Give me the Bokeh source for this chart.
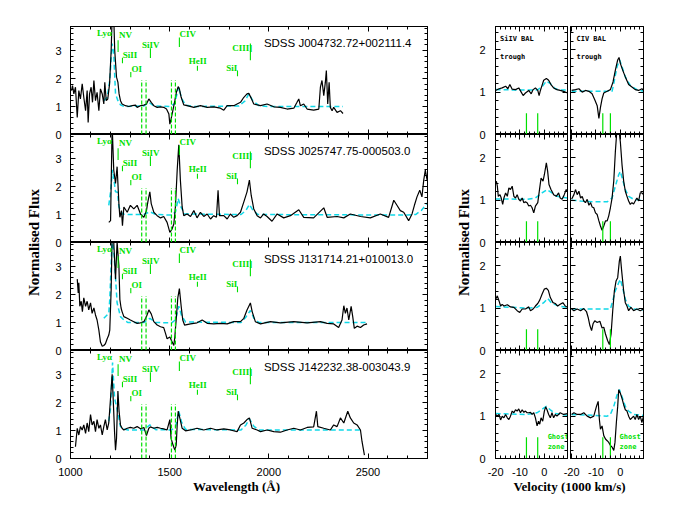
from bokeh.plotting import figure
from bokeh.layouts import row, column
from bokeh.models import Range1d, SingleIntervalTicker, FixedTicker, LinearAxis
from bokeh.embed import file_html
from bokeh.resources import INLINE
from bokeh.core.properties import value

# ---------------- data ----------------
obj_names = ["SDSS J004732.72+002111.4", "SDSS J025747.75-000503.0",
             "SDSS J131714.21+010013.0", "SDSS J142232.38-003043.9"]

spec1 = [(1005,1.57),(1010,1.75),(1017,1.45),(1025,1.69),(1034,0.61),(1042,1.57),(1050,1.27),(1059,1.81),
         (1067,1.33),(1076,0.85),(1084,1.57),(1089,0.43),(1096,1.45),(1104,1.69),(1111,1.15),(1118,1.93),
         (1126,1.21),(1134,1.51),(1143,0.85),(1151,1.63),(1160,1.45),(1168,1.09),(1173,1.87),(1180,1.21),
         (1188,1.27),(1197,1.81),(1205,3.0),(1210,4.2),(1218,4.2),(1223,3.0),(1232,2.05),(1239,1.87),
         (1245,1.45),(1252,1.21),(1260,1.09),(1277,1.03),(1294,1.0),(1311,1.03),(1328,1.05),(1336,0.97),
         (1353,1.03),(1370,1.05),(1383,1.09),(1395,1.27),(1407,1.15),(1420,1.03),(1437,0.97),(1454,0.99),
         (1470,0.97),(1484,0.91),(1496,0.73),(1501,0.37),(1507,0.55),(1516,0.85),(1526,1.21),(1534,1.51),
         (1543,1.71),(1549,1.63),(1558,1.33),(1571,1.06),(1588,1.03),(1622,0.97),(1655,1.03),(1689,0.97),
         (1722,0.99),(1756,0.94),(1773,0.87),(1790,1.03),(1823,1.03),(1857,1.15),(1874,1.33),(1890,1.45),
         (1899,1.47),(1911,1.30),(1924,1.09),(1958,1.03),(1991,1.09),(2025,0.99),(2058,0.97),(2092,0.91),
         (2126,0.94),(2142,1.15),(2151,1.27),(2159,1.03),(2176,1.09),(2193,0.91),(2226,0.87),(2252,0.91),
         (2260,1.69),(2268,1.93),(2277,1.39),(2285,1.87),(2290,2.29),(2297,1.09),(2304,1.87),(2310,0.97),
         (2319,0.85),(2327,0.97),(2344,0.79),(2361,0.85),(2374,0.75)]
model1 = [(1168,1.21),(1185,1.33),(1198,1.93),(1210,3.25),(1218,2.9),(1227,1.45),(1239,1.21),(1252,1.06),
          (1270,1.0),(1370,1.02),(1395,1.15),(1420,1.02),(1500,1.0),(1525,1.1),(1545,1.69),(1560,1.3),
          (1580,1.05),(1620,1.0),(1850,1.02),(1880,1.2),(1899,1.45),(1920,1.2),(1950,1.03),(2000,1.0),(2374,1.0)]

spec2 = [(1193,0.72),(1202,0.78),(1210,4.2),(1218,2.59),(1227,2.11),(1235,2.71),(1244,1.39),(1249,0.9),
         (1257,1.14),(1262,0.6),(1269,1.27),(1286,1.08),(1302,1.33),(1319,1.2),(1336,1.33),(1353,1.02),
         (1370,0.9),(1383,1.14),(1390,1.45),(1400,1.81),(1407,1.39),(1420,1.08),(1437,0.96),(1454,0.88),
         (1470,0.93),(1487,0.72),(1501,0.36),(1512,0.48),(1521,0.66),(1529,1.27),(1538,2.59),(1546,3.49),
         (1554,2.23),(1563,1.27),(1571,0.96),(1588,1.02),(1605,0.93),(1622,1.14),(1638,0.88),(1655,1.08),
         (1672,0.93),(1689,1.02),(1706,0.84),(1722,0.96),(1736,0.9),(1744,1.87),(1751,0.96),(1773,0.96),
         (1790,0.84),(1806,1.02),(1823,0.9),(1840,0.96),(1857,1.08),(1874,1.45),(1890,1.81),(1902,2.23),
         (1911,1.69),(1924,1.2),(1941,0.96),(1958,0.88),(1974,1.02),(1991,0.93),(2016,0.76),(2042,1.02),
         (2075,0.88),(2109,0.96),(2151,1.17),(2176,0.9),(2226,0.88),(2277,1.24),(2294,0.9),(2344,0.93),
         (2378,0.88),(2411,1.02),(2462,0.93),(2512,0.88),(2562,1.02),(2604,0.9),(2630,1.51),(2646,1.33),
         (2663,1.14),(2680,1.08),(2705,0.78),(2722,1.02),(2734,1.33),(2747,1.63),(2761,1.87),(2772,1.63),
         (2781,2.23),(2789,2.59),(2798,2.23)]
model2 = [(1193,1.33),(1202,1.81),(1212,2.6),(1218,2.3),(1227,1.81),(1237,1.8),(1244,1.27),(1262,1.02),
          (1290,1.0),(1370,1.0),(1400,1.1),(1430,1.0),(1510,0.98),(1530,1.1),(1543,1.57),(1555,1.3),
          (1575,1.02),(1860,1.0),(1885,1.15),(1902,1.36),(1920,1.15),(1945,1.0),(2700,0.98),(2740,1.0),
          (2770,1.15),(2798,1.41)]

spec3 = [(1034,2.55),(1039,2.06),(1042,2.42),(1047,1.58),(1054,1.76),(1060,1.39),(1067,1.88),(1076,1.58),
         (1084,1.76),(1092,1.45),(1101,1.7),(1109,1.33),(1118,1.52),(1126,1.27),(1134,1.09),(1143,0.73),
         (1151,0.3),(1160,0.15),(1168,0.18),(1176,0.24),(1185,0.42),(1193,0.55),(1198,0.73),(1205,2.18),
         (1210,4.2),(1218,3.88),(1227,2.55),(1235,3.88),(1244,3.03),(1249,1.82),(1255,1.52),(1260,1.39),
         (1269,1.21),(1286,1.15),(1302,1.09),(1319,1.03),(1336,0.97),(1353,0.99),(1370,1.03),(1383,1.21),
         (1395,1.45),(1407,1.31),(1420,1.03),(1437,0.91),(1454,0.85),(1470,0.82),(1479,0.61),(1487,0.42),
         (1501,0.48),(1509,0.36),(1521,0.18),(1526,0.48),(1534,1.21),(1541,1.88),(1549,2.21),(1558,1.58),
         (1566,1.09),(1575,0.91),(1605,0.95),(1638,0.99),(1664,1.09),(1689,0.97),(1722,0.95),(1756,0.97),
         (1790,0.95),(1823,1.03),(1857,1.03),(1874,1.15),(1890,1.45),(1907,1.7),(1916,1.39),(1932,1.03),
         (1958,0.95),(2008,1.03),(2058,0.99),(2126,1.03),(2193,0.99),(2260,1.03),(2294,0.97),(2327,0.95),
         (2352,0.82),(2369,1.09),(2378,1.6),(2386,1.33),(2394,1.52),(2403,1.09),(2415,1.58),(2423,1.21),
         (2431,0.79),(2445,0.87),(2462,0.82),(2478,0.91),(2495,0.95)]
model3 = [(1168,1.15),(1193,1.33),(1198,1.82),(1210,4.0),(1220,3.4),(1235,1.7),(1252,1.21),(1269,1.09),
          (1290,1.0),(1370,1.0),(1400,1.15),(1430,1.0),(1510,0.99),(1530,1.1),(1546,1.58),(1560,1.25),
          (1580,1.02),(1860,1.0),(1885,1.2),(1907,1.43),(1925,1.15),(1950,1.0),(2495,1.0)]

spec4 = [(1025,0.42),(1034,1.08),(1042,0.84),(1050,1.14),(1059,1.02),(1067,1.2),(1076,0.9),(1084,1.27),
         (1092,0.96),(1101,1.57),(1109,1.2),(1118,1.33),(1126,0.96),(1134,1.39),(1143,1.08),(1151,1.2),
         (1160,0.84),(1168,1.14),(1176,1.39),(1185,1.02),(1193,1.27),(1202,2.17),(1210,3.01),(1215,2.17),
         (1222,0.96),(1227,0.3),(1232,0.72),(1239,2.41),(1245,1.69),(1252,1.2),(1260,1.08),(1269,1.02),
         (1286,1.08),(1302,1.11),(1319,1.08),(1336,1.14),(1353,1.06),(1370,1.11),(1383,0.82),(1395,1.08),
         (1403,1.13),(1420,1.08),(1437,1.11),(1454,1.08),(1470,1.06),(1487,1.02),(1501,1.39),(1507,0.72),
         (1517,0.48),(1526,0.3),(1533,0.48),(1538,1.2),(1543,1.69),(1551,1.45),(1563,1.08),(1580,0.99),
         (1605,1.02),(1638,1.08),(1672,1.02),(1706,1.08),(1739,1.02),(1773,1.06),(1806,1.02),(1840,0.96),
         (1857,1.2),(1874,1.27),(1890,1.39),(1902,1.45),(1916,1.08),(1941,1.02),(1958,0.96),(1991,1.02),
         (2025,0.96),(2058,0.94),(2092,1.02),(2126,1.08),(2159,1.02),(2193,1.11),(2226,1.13),(2240,1.69),
         (2247,1.14),(2277,1.08),(2310,1.02),(2327,1.2),(2344,1.14),(2361,1.45),(2378,1.27),(2398,1.69),
         (2411,1.45),(2428,1.27),(2445,1.2),(2462,1.02),(2470,0.6),(2482,0.12)]
model4 = [(1193,1.33),(1202,1.81),(1212,3.43),(1222,2.17),(1235,1.75),(1252,1.14),(1269,1.06),(1290,1.02),
          (1370,1.02),(1400,1.2),(1430,1.03),(1510,1.02),(1530,1.15),(1546,1.69),(1560,1.3),(1580,1.04),
          (1860,1.02),(1885,1.2),(1902,1.42),(1925,1.15),(1950,1.02),(2470,1.02)]

# emission-line identifications (same in every left panel)
line_names   = ["Ly\u03b1", "NV", "SiII", "OI", "SiIV", "CIV", "HeII", "SiI", "CIII]"]
label_wl     = [1134, 1244, 1264, 1307, 1361, 1549, 1596, 1785, 1815]
label_flux   = [3.61, 3.55, 2.85, 2.35, 3.21, 3.58, 2.64, 2.38, 3.10]
tick_wl      = [1240, 1262, 1304, 1403, 1549, 1640, 1842, 1907]
tick_lo      = [2.95, 2.55, 2.05, 2.73, 3.13, 2.28, 2.08, 2.65]
tick_hi      = [3.37, 2.74, 2.23, 3.08, 3.47, 2.46, 2.29, 3.25]
bal_wl       = [1359, 1381, 1509, 1529]
bal_top      = 1.95

# velocity panels (1000 km/s, normalised flux)
siiv1 = [(-20,1.04),(-18.6,1.08),(-17.3,1.1),(-15.9,1.14),(-14.97,1.08),(-14.16,1.18),(-13.2,1.07),(-11.84,1.06),
         (-10.5,1.1),(-9.5,1.0),(-8.7,0.92),(-7.76,0.98),(-6.4,1.04),(-5.4,0.96),(-4.6,1.06),(-3.67,1.1),
         (-2.7,1.04),(-2.15,0.92),(-1.63,1.04),(-0.95,1.16),(-0.27,1.28),(0.82,1.32),(1.77,1.28),(2.72,1.18),
         (3.81,1.1),(5.17,1.06),(6.5,1.04),(7.9,1.02),(9.5,0.98)]
siiv1_m = [(-20,1.06),(-10,1.05),(-3,1.05),(-1,1.12),(0.8,1.26),(2.5,1.2),(4.5,1.08),(6.5,1.05),(9.5,1.05)]
civ1 = [(-20,1.04),(-18.4,1.06),(-17.0,1.08),(-15.65,1.0),(-14.3,1.04),(-12.9,1.02),(-11.6,0.96),(-10.5,0.82),
        (-9.5,0.68),(-8.8,0.38),(-8.16,0.64),(-7.5,0.84),(-6.8,0.98),(-5.4,1.02),(-4.08,1.06),(-3.0,1.24),
        (-2.04,1.52),(-1.09,1.76),(-0.54,1.82),(0.0,1.68),(0.95,1.52),(2.04,1.36),(3.4,1.18),(4.76,1.12),
        (6.1,1.06),(7.5,1.04),(8.84,1.08),(9.5,1.04)]
civ1_m = [(-20,1.02),(-3.4,1.02),(-2.7,1.2),(-1.36,1.6),(-0.27,1.76),(0.68,1.6),(2.04,1.36),(4.08,1.16),
          (6.8,1.06),(9.5,1.02)]

siiv2 = [(-19.7,1.45),(-19.3,1.33),(-18.9,1.09),(-18.2,1.13),(-17.7,1.05),(-17.1,0.9),(-16.6,1.05),(-15.9,1.17),
         (-15.2,1.09),(-14.56,1.29),(-13.9,1.25),(-13.2,1.33),(-12.5,1.09),(-11.84,1.05),(-11.16,1.13),(-10.5,1.02),
         (-9.8,0.98),(-9.1,1.05),(-8.4,0.94),(-7.76,0.96),(-7.08,0.94),(-6.4,0.86),(-5.7,0.88),(-5.03,0.82),
         (-4.35,0.7),(-3.67,0.86),(-2.7,0.94),(-1.9,1.29),(-1.35,1.52),(-0.54,1.45),(0.0,1.6),(0.82,1.88),
         (1.36,1.68),(1.9,1.37),(2.72,1.25),(3.81,1.13),(4.9,1.09),(5.85,1.17),(6.5,1.05),(7.3,1.02),
         (8.16,1.13),(8.98,1.25),(9.5,1.21)]
siiv2_m = [(-20,1.03),(-7,1.02),(-3.7,1.05),(-0.95,1.17),(1.09,1.25),(3.13,1.17),(5.17,1.09),(9.5,1.05)]
civ2 = [(-20,1.02),(-19.05,1.13),(-18.4,1.25),(-17.7,1.13),(-17.0,1.21),(-16.3,1.05),(-15.65,1.09),(-15.0,0.98),
        (-14.3,0.94),(-13.6,1.02),(-12.9,0.88),(-12.2,0.94),(-11.6,0.84),(-10.9,0.82),(-10.2,0.7),(-9.5,0.66),
        (-8.8,0.51),(-8.16,0.39),(-7.5,0.29),(-6.8,0.39),(-6.1,0.51),(-5.4,0.51),(-4.76,0.63),(-4.08,0.82),
        (-3.4,1.05),(-2.7,1.45),(-2.04,2.15),(-1.36,2.7),(-0.68,2.7),(0.0,2.38),(0.68,1.84),(1.36,1.45),
        (2.04,1.21),(2.72,1.09),(3.4,0.98),(4.08,0.9),(4.76,0.94),(5.44,0.91),(6.1,0.98),(6.8,1.05),
        (7.5,0.98),(8.16,1.17),(8.84,1.17),(9.5,1.13)]
civ2_m = [(-20,1.0),(-16.3,0.98),(-10.9,0.96),(-5.4,0.96),(-3.4,1.05),(-2.04,1.33),(-0.68,1.6),(0.0,1.68),
          (0.95,1.48),(2.04,1.25),(3.4,1.09),(5.44,1.02),(9.5,1.0)]

siiv3 = [(-20,1.21),(-19.3,1.29),(-18.6,1.17),(-17.96,1.05),(-17.3,1.09),(-16.6,1.05),(-15.2,1.08),(-13.9,1.03),
         (-12.5,1.02),(-11.16,0.94),(-10.1,0.9),(-9.1,0.98),(-7.76,0.98),(-6.4,1.03),(-5.7,0.94),(-4.6,0.98),
         (-3.67,1.05),(-2.7,1.11),(-1.9,1.19),(-0.95,1.33),(0.0,1.45),(0.82,1.47),(1.63,1.42),(2.45,1.25),
         (3.54,1.13),(4.5,1.11),(5.44,1.05),(6.5,1.09),(7.6,1.13),(8.57,1.05),(9.5,1.02)]
siiv3_m = [(-20,1.04),(-7,1.0),(-2.99,1.02),(-0.27,1.13),(1.36,1.23),(3.13,1.11),(6.5,1.04),(9.5,1.02)]
civ3 = [(-20,0.98),(-19.05,0.94),(-17.7,0.98),(-16.3,0.94),(-15.0,0.99),(-13.9,0.92),(-13.2,0.78),(-12.5,0.59),
        (-11.8,0.47),(-11.2,0.63),(-10.5,0.7),(-9.5,0.66),(-8.4,0.69),(-7.5,0.53),(-6.8,0.55),(-6.1,0.39),
        (-5.2,0.23),(-4.5,0.14),(-3.8,0.39),(-3.13,0.94),(-2.45,1.41),(-1.77,1.64),(-1.09,1.72),(-0.41,2.11),
        (0.0,2.23),(0.54,1.88),(1.36,1.41),(2.04,1.13),(2.72,1.05),(3.4,0.94),(4.35,1.02),(5.44,0.94),
        (6.8,0.98),(8.16,0.94),(9.5,0.98)]
civ3_m = [(-20,0.98),(-4.08,0.98),(-3.13,1.17),(-2.04,1.41),(-0.68,1.6),(0.0,1.68),(0.95,1.48),(2.04,1.21),
          (3.4,1.05),(5.44,0.98),(9.5,0.96)]

siiv4 = [(-20,1.04),(-19.3,1.0),(-18.6,1.04),(-17.96,0.91),(-17.3,1.0),(-16.6,0.96),(-15.9,1.04),(-15.2,0.96),
         (-14.56,0.92),(-13.9,1.0),(-13.2,1.12),(-12.5,1.08),(-11.84,1.15),(-11.16,1.12),(-10.5,1.17),(-9.8,1.08),
         (-9.1,1.15),(-8.4,1.09),(-7.76,1.12),(-7.08,1.08),(-6.4,1.08),(-5.7,1.09),(-5.03,1.04),(-4.35,1.08),
         (-3.67,0.96),(-2.99,0.77),(-2.4,0.88),(-1.9,0.81),(-1.35,0.96),(-0.68,0.88),(0.0,1.12),(0.54,1.22),
         (1.09,1.15),(1.77,1.04),(2.45,0.96),(3.13,1.08),(3.81,0.96),(4.5,1.04),(5.17,1.0),(6.5,1.08),
         (7.9,1.04),(9.5,1.06)]
siiv4_m = [(-20,1.06),(-7.08,1.04),(-2.99,1.08),(-0.27,1.19),(0.82,1.23),(2.45,1.15),(4.5,1.06),(9.5,1.02)]
civ4 = [(-20,1.04),(-19.05,1.08),(-17.7,1.04),(-16.3,1.04),(-15.0,1.08),(-13.6,1.0),(-12.2,0.96),(-10.9,1.0),
        (-9.8,1.23),(-9.1,1.35),(-8.6,0.92),(-8.16,0.69),(-7.5,0.77),(-6.8,0.54),(-6.1,0.46),(-5.4,0.42),
        (-4.76,0.38),(-4.08,0.31),(-3.4,0.27),(-2.7,0.19),(-2.2,0.38),(-1.63,0.85),(-1.09,1.23),(-0.68,1.62),
        (0.0,1.54),(0.68,1.42),(1.36,1.27),(2.04,1.15),(2.72,1.12),(3.4,1.0),(4.08,0.92),(4.76,0.96),
        (5.44,1.0),(6.1,0.92),(6.8,1.04),(7.5,0.92),(8.16,1.0),(8.84,0.85),(9.5,1.0)]
civ4_m = [(-20,1.04),(-10.9,1.02),(-5.4,1.0),(-4.08,1.04),(-2.7,1.23),(-1.36,1.5),(-0.41,1.63),(0.68,1.46),
          (2.04,1.23),(3.4,1.12),(5.44,1.04),(9.5,1.02)]

siiv_marks = [-7.35, -2.73]
civ_marks = [-7.2, -4.08]
mark_top = 0.5

left_flux_ticks = [0, 1, 2, 3]
right_flux_ticks = [0, 1, 2]
velocity_ticks = [-20, -10, 0]
LEFT_YMAX = 3.86
RIGHT_YMAX = 2.55
WL_RANGE = (1000, 2800)
SIIV_RANGE = (-20.05, 9.5)
CIV_RANGE = (-20.45, 9.5)

# ---------------- styling / layout ----------------
BLACK = "#000000"
CYAN = "#10d8e8"
GREEN = "#00e000"
LW, LH = 357, 108          # left frame size
SW, CW = 72, 73            # right frame widths
TOP = 26
PANEL_BOTTOM = 7
ROW_H = TOP + 4 * LH + PANEL_BOTTOM


def xy(pairs):
    return [a for a, b in pairs], [b for a, b in pairs]


def y_ticker(top):
    majors = list(range(0, int(top) + 1))
    minors = [k / 5 for k in range(0, int(top * 5) + 1)]
    return FixedTicker(ticks=majors, minor_ticks=minors)


def inner_axis(ticker):
    ax = LinearAxis(ticker=ticker)
    ax.major_tick_in = 5
    ax.major_tick_out = 0
    ax.minor_tick_in = 3
    ax.minor_tick_out = 0
    ax.axis_line_color = BLACK
    ax.major_tick_line_color = BLACK
    ax.minor_tick_line_color = BLACK
    ax.major_label_text_font = "Liberation Sans"
    ax.major_label_text_color = None
    ax.major_label_text_font_size = "1px"
    ax.major_label_standoff = 0
    return ax


def panel(xr, yr, fw, fh, l, r, t, b, xint):
    p = figure(x_range=Range1d(*xr), y_range=Range1d(*yr), frame_width=fw, frame_height=fh,
               output_backend="svg", toolbar_location=None, x_axis_location=None,
               y_axis_location=None, min_border_left=l, min_border_right=r,
               min_border_top=t, min_border_bottom=b)
    p.add_layout(inner_axis(SingleIntervalTicker(interval=xint, num_minor_ticks=5)), "below")
    p.add_layout(inner_axis(SingleIntervalTicker(interval=xint, num_minor_ticks=5)), "above")
    p.add_layout(inner_axis(y_ticker(yr[1])), "left")
    p.add_layout(inner_axis(y_ticker(yr[1])), "right")
    p.xgrid.visible = False
    p.ygrid.visible = False
    p.outline_line_color = BLACK
    p.outline_line_width = 1
    p.background_fill_color = "white"
    p.border_fill_color = "white"
    return p


def label_axis(ticker, overrides, title, standoff, title_standoff, title_size):
    ax = LinearAxis(ticker=ticker, axis_label=title)
    if overrides:
        ax.major_label_overrides = overrides
    ax.axis_line_color = None
    ax.major_tick_line_color = None
    ax.minor_tick_line_color = None
    ax.major_tick_in = 0
    ax.major_tick_out = 0
    ax.minor_tick_in = 0
    ax.minor_tick_out = 0
    ax.major_label_text_font = "Liberation Sans"
    ax.major_label_text_font_size = "11px"
    ax.major_label_text_color = BLACK
    ax.major_label_standoff = standoff
    ax.axis_label_text_font = "Liberation Serif"
    ax.axis_label_text_font_style = "bold"
    ax.axis_label_text_font_size = title_size
    ax.axis_label_text_color = BLACK
    ax.axis_label_standoff = title_standoff
    return ax


def clean(f):
    f.xgrid.visible = False
    f.ygrid.visible = False
    f.outline_line_color = None
    f.background_fill_color = "white"
    f.border_fill_color = "white"
    return f


def stacked_flux_axis_fig(width, ymax, values, standoff, title_standoff):
    """Slim figure whose single axis labels the flux of all four stacked panels."""
    ticks, overrides = [], {}
    for k in range(4):
        for v in values:
            t = round(k * ymax + v, 3)
            if t not in overrides:
                ticks.append(t)
                overrides[t] = str(v)
    f = figure(x_range=Range1d(0, 1), y_range=Range1d(0, 4 * ymax), frame_width=1,
               frame_height=4 * LH, min_border_left=width - 1, min_border_right=0,
               min_border_top=TOP, min_border_bottom=PANEL_BOTTOM,
               output_backend="svg", toolbar_location=None, x_axis_location=None,
               y_axis_location=None)
    f.add_layout(label_axis(FixedTicker(ticks=ticks, minor_ticks=[]), overrides,
                            "Normalised Flux", standoff, title_standoff, "15px"), "left")
    return clean(f)


# left column of spectra
specs = [spec1, spec2, spec3, spec4]
models = [model1, model2, model3, model4]
left_panels = []
for i in range(4):
    p = panel(WL_RANGE, (0, LEFT_YMAX), LW, LH, 3, 4,
              TOP if i == 0 else 0, PANEL_BOTTOM if i == 3 else 0, 500)
    mx, my = xy(models[i])
    p.line(mx, my, color=CYAN, line_width=1.5, line_dash="5 3")
    sx, sy = xy(specs[i])
    p.line(sx, sy, color=BLACK, line_width=1.2)
    p.segment(x0=bal_wl, y0=[0] * 4, x1=bal_wl, y1=[bal_top] * 4, color=GREEN,
              line_width=1.2, line_dash="4 2")
    p.segment(x0=tick_wl, y0=tick_lo, x1=tick_wl, y1=tick_hi, color=GREEN, line_width=1.1)
    p.text(x=label_wl, y=label_flux, text=line_names, text_font=value("Liberation Serif"),
           text_font_style="bold", text_font_size="9px", text_color=GREEN,
           text_align="left", text_baseline="middle")
    p.text(x=[1975], y=[3.27], text=[obj_names[i]], text_font=value("Liberation Sans"),
           text_font_size="11.5px", text_color=BLACK, text_align="left", text_baseline="middle")
    left_panels.append(p)
left_col = column(*left_panels)

# right column of velocity panels
siiv = [siiv1, siiv2, siiv3, siiv4]
siiv_m = [siiv1_m, siiv2_m, siiv3_m, siiv4_m]
civ = [civ1, civ2, civ3, civ4]
civ_m = [civ1_m, civ2_m, civ3_m, civ4_m]
rows = []
for i in range(4):
    t = TOP if i == 0 else 0
    b = PANEL_BOTTOM if i == 3 else 0
    ps = panel(SIIV_RANGE, (0, RIGHT_YMAX), SW, LH, 3, 1, t, b, 10)
    pc = panel(CIV_RANGE, (0, RIGHT_YMAX), CW, LH, 2, 4, t, b, 10)
    for p, d, m, marks in ((ps, siiv[i], siiv_m[i], siiv_marks), (pc, civ[i], civ_m[i], civ_marks)):
        mx, my = xy(m)
        p.line(mx, my, color=CYAN, line_width=1.5, line_dash="5 3")
        dx, dy = xy(d)
        p.line(dx, dy, color=BLACK, line_width=1.2)
        p.segment(x0=marks, y0=[0, 0], x1=marks, y1=[mark_top] * 2, color=GREEN, line_width=1.2)
    if i == 0:
        for p, nm, vx in ((ps, "SiIV BAL", -18.2), (pc, "CIV BAL", -18.0)):
            p.text(x=[vx, vx], y=[2.26, 1.82], text=[nm, "trough"],
                   text_font=value("DejaVu Sans Mono"), text_font_style="bold",
                   text_font_size="7px", text_color=BLACK, text_align="left",
                   text_baseline="middle")
    if i == 3:
        for p, vx in ((ps, 1.35), (pc, -0.3)):
            p.text(x=[vx, vx], y=[0.5, 0.27], text=["Ghost", "zone"],
                   text_font=value("DejaVu Sans Mono"), text_font_style="bold",
                   text_font_size="7px", text_color=GREEN, text_align="left",
                   text_baseline="middle")
    rows.append(row(ps, pc))
right_col = column(*rows)

ylab_left = stacked_flux_axis_fig(67, LEFT_YMAX, left_flux_ticks, 5, 10)
ylab_right = stacked_flux_axis_fig(61, RIGHT_YMAX, right_flux_ticks, 6, 4)
top_row = row(ylab_left, left_col, ylab_right, right_col)

# bottom axis strip, wavelength: frame starts at the panels' left edge and keeps their scale;
# its width is chosen so the centred title sits where the original one is
WL_SCALE = (WL_RANGE[1] - WL_RANGE[0]) / LW
XL_W = 332
xlab_left = figure(x_range=Range1d(WL_RANGE[0], WL_RANGE[0] + XL_W * WL_SCALE), y_range=Range1d(0, 1),
                   frame_width=XL_W, frame_height=1, min_border_left=70,
                   min_border_right=67 + 3 + LW + 4 - 70 - XL_W, min_border_top=0,
                   min_border_bottom=30, output_backend="svg", toolbar_location=None,
                   x_axis_location=None, y_axis_location=None)
xlab_left.add_layout(label_axis(SingleIntervalTicker(interval=500, num_minor_ticks=0), None,
                                "Wavelength (\u00c5)", 1, 0, "13px"), "below")
clean(xlab_left)

# bottom axis strip, velocity: both velocity panels laid side by side on one scale
V_SCALE = SW / (SIIV_RANGE[1] - SIIV_RANGE[0])
GAP_PX = 3
civ_offset = SIIV_RANGE[1] + GAP_PX / V_SCALE - CIV_RANGE[0]
v_ticks, v_over = [], {}
for v in velocity_ticks:
    v_ticks.append(v)
    v_over[v] = str(v)
for v in velocity_ticks:
    u = round(v + civ_offset, 3)
    v_ticks.append(u)
    v_over[u] = str(v)
VX_W = SW + GAP_PX + CW
xlab_right = figure(x_range=Range1d(SIIV_RANGE[0], SIIV_RANGE[0] + VX_W / V_SCALE), y_range=Range1d(0, 1),
                    frame_width=VX_W, frame_height=1, min_border_left=61 + 3, min_border_right=4,
                    min_border_top=0, min_border_bottom=30, output_backend="svg",
                    toolbar_location=None, x_axis_location=None, y_axis_location=None)
xlab_right.add_layout(label_axis(FixedTicker(ticks=v_ticks, minor_ticks=[]), v_over,
                                 "Velocity (1000 km/s)", 1, 0, "13px"), "below")
clean(xlab_right)

layout = column(top_row, row(xlab_left, xlab_right))

open("out.html", "w").write(file_html(layout, INLINE))
